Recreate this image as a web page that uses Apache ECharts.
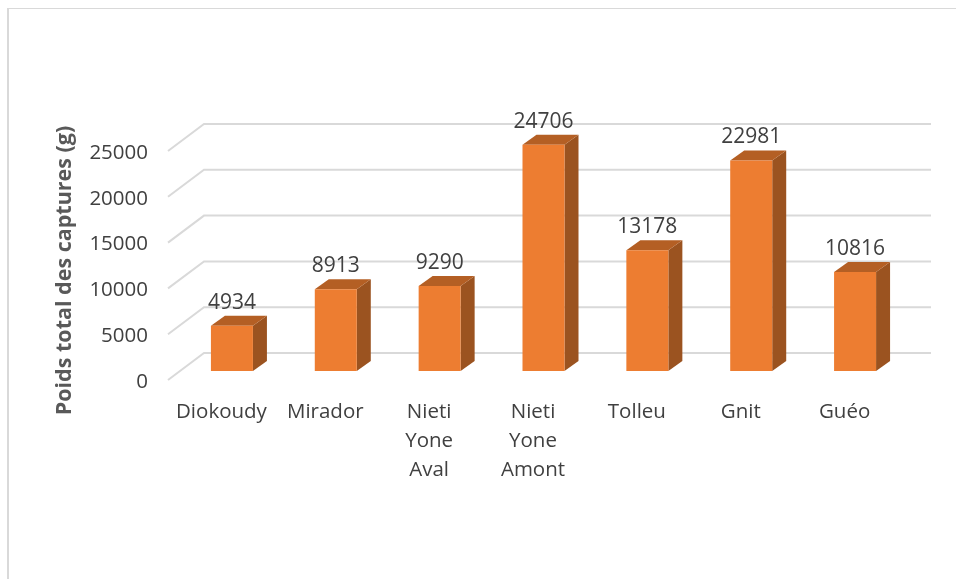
<!DOCTYPE html>
<html>
<head>
<meta charset="utf-8">
<script src="https://cdn.jsdelivr.net/npm/echarts@6/dist/echarts.min.js"></script>
<style>
    html,body{margin:0;padding:0;background:#fff;}
    #main{width:956px;height:579px;position:relative;}
    .frame{position:absolute;left:7px;top:8px;right:0;bottom:0;border-left:2px solid #d9d9d9;border-top:1px solid #d9d9d9;}
</style>
</head>
<body>
<div class="frame"></div>
<div id="main"></div>
<script>
var categories = ['Diokoudy','Mirador','Nieti\nYone\nAval','Nieti\nYone\nAmont','Tolleu','Gnit','Guéo'];
var poids = [4934,8913,9290,24706,13178,22981,10816];
var yTicks = [0,5000,10000,15000,20000,25000];

var FONT = '"Open Sans"';
var wallDx = 36, wallDy = 27;   // profondeur du plancher
var barDx = 12, barDy = 9;      // position des barres dans la profondeur
var barW = 42, sideDx = 14, sideDy = 10;

var chart = echarts.init(document.getElementById('main'), null, {renderer:'canvas'});

function renderGrid(params, api){
    var y = api.coord([0, api.value(1)])[1];
    var x0 = params.coordSys.x, w = params.coordSys.width;
    return {
        type:'polyline',
        silent:true,
        shape:{points:[[x0,y],[x0+wallDx,y-wallDy],[x0+wallDx+w,y-wallDy]]},
        style:{fill:null,stroke:'#d9d9d9',lineWidth:2}
    };
}

function renderBar(params, api){
    var p = api.coord([api.value(0), api.value(1)]);
    var base = api.coord([api.value(0), 0]);
    var l = p[0]-barW/2+barDx, r = l+barW, t = p[1]-barDy, b = base[1]-barDy;
    return {
        type:'group',
        children:[
            {type:'polygon',shape:{points:[[r,t],[r+sideDx,t-sideDy],[r+sideDx,b-sideDy],[r,b]]},style:{fill:'#9b5320'}},
            {type:'polygon',shape:{points:[[l,t],[l+sideDx,t-sideDy],[r+sideDx,t-sideDy],[r,t]]},style:{fill:'#b45f24'}},
            {type:'rect',shape:{x:l,y:t,width:barW,height:b-t},style:{fill:'#ed7d31'}},
            {type:'text',style:{text:String(api.value(1)),x:l+barW/2,y:t-23,align:'center',verticalAlign:'middle',
                fill:'#404040',font:'21px '+FONT}}
        ]
    };
}

chart.setOption({
    animation:false,
    backgroundColor:'transparent',
    grid:{left:168,top:151,width:727,height:229},
    xAxis:{
        type:'category',
        data:categories,
        axisLine:{show:false},
        axisTick:{show:false},
        axisLabel:{interval:0,color:'#404040',fontFamily:FONT,fontSize:20.5,lineHeight:29,margin:18,padding:[0,0,0,3]}
    },
    yAxis:{
        type:'value',
        min:0,max:25000,interval:5000,
        name:'Poids total des captures (g)',
        nameLocation:'middle',
        nameGap:92,
        nameTextStyle:{color:'#595959',fontFamily:FONT,fontSize:21.5,fontWeight:'bold',padding:[0,10,0,0]},
        axisLine:{show:false},
        axisTick:{show:false},
        splitLine:{show:false},
        axisLabel:{margin:20,
            formatter:function(v){return '{t|'+v+'}'},
            rich:{t:{color:'#404040',fontFamily:FONT,fontSize:20.5,padding:[4,0,0,0]}}}
    },
    series:[
        {type:'custom',renderItem:renderGrid,clip:false,z:1,silent:true,
            data:yTicks.map(function(v){return [0,v]})},
        {type:'custom',renderItem:renderBar,clip:false,z:2,silent:true,
            data:poids.map(function(v,i){return [i,v]})}
    ]
});
</script>
</body>
</html>
